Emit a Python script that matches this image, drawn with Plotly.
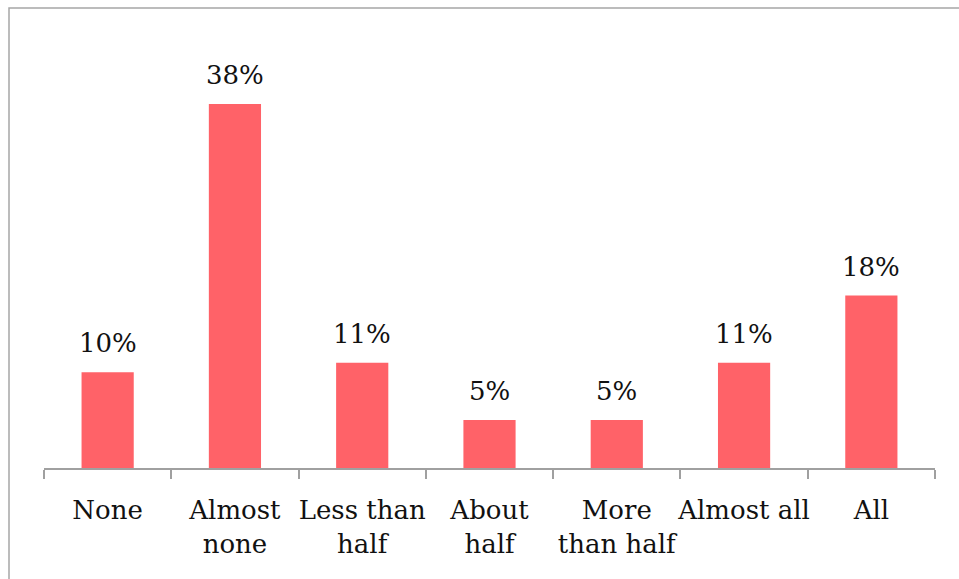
import plotly.graph_objects as go

categories = ["None", "Almost<br>none", "Less than<br>half", "About<br>half",
              "More<br>than half", "Almost all", "All"]
values = [10, 38, 11, 5, 5, 11, 18]
labels = ["10%", "38%", "11%", "5%", "5%", "11%", "18%"]

W, H = 959, 579
L, R, T, B = 44, 24, 37, 111
FONT = "DejaVu Serif"

fig = go.Figure()
fig.add_trace(go.Bar(
    x=categories, y=values,
    marker=dict(color="#FF6268", line=dict(width=0)),
    width=0.41,
    hoverinfo="skip",
))

for c, v, t in zip(categories, values, labels):
    fig.add_annotation(x=c, y=v, text=t, showarrow=False, yanchor="bottom",
                       yshift=12, font=dict(family=FONT, size=26, color="#111111"))

pw = W - L - R
ph = H - T - B
fig.add_shape(type="rect", xref="paper", yref="paper",
              x0=(9 - L) / pw, x1=(W + 20 - L) / pw,
              y0=-(B + 20) / ph, y1=(H - B - 8) / ph,
              line=dict(color="#a6a6a6", width=1.5), fillcolor="rgba(0,0,0,0)",
              layer="below")

fig.update_layout(
    width=W, height=H,
    margin=dict(l=L, r=R, t=T, b=B, autoexpand=False),
    paper_bgcolor="white", plot_bgcolor="white",
    showlegend=False,
    bargap=0.59,
    font=dict(family=FONT, size=26, color="#111111"),
    xaxis=dict(
        type="category",
        showline=True, linecolor="#a0a0a0", linewidth=1.5,
        ticks="outside", tickson="boundaries", ticklen=9,
        tickcolor="#a0a0a0", tickwidth=1.5,
        showgrid=False, zeroline=False,
        tickangle=0, automargin=False,
        tickfont=dict(family=FONT, size=26, color="#111111"),
        ticklabelstandoff=18,
    ),
    yaxis=dict(range=[0, 45], visible=False, showgrid=False, zeroline=False),
)

fig.write_html("out.html")
